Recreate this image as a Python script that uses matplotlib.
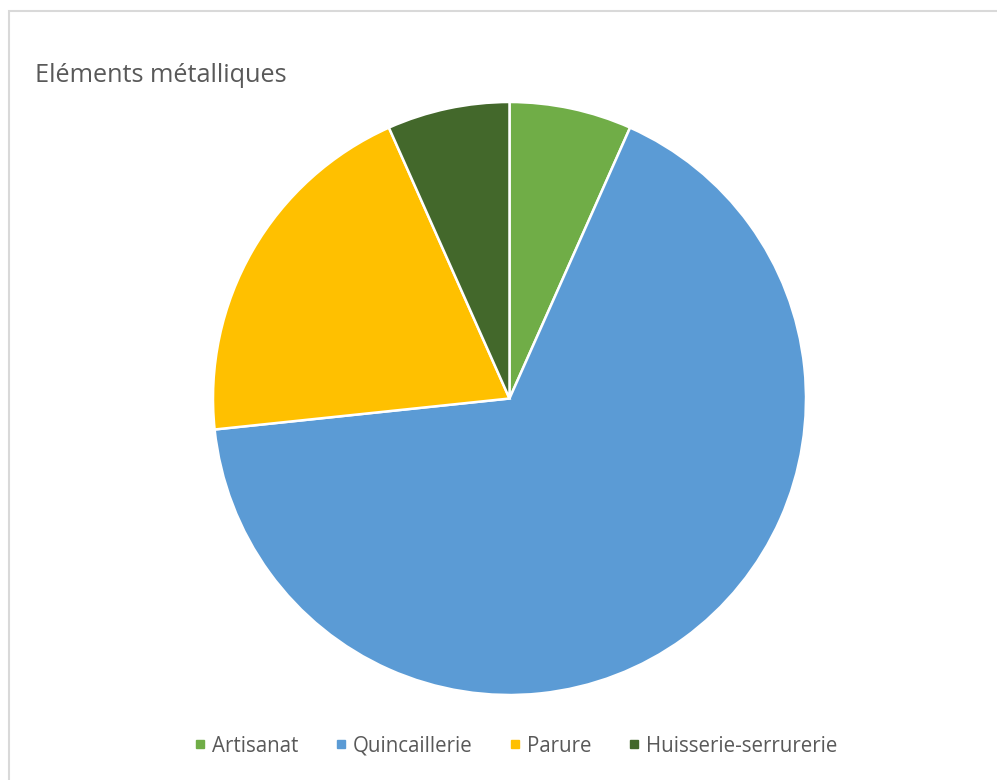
import matplotlib
matplotlib.use("Agg")
import matplotlib.pyplot as plt
from matplotlib.patches import Rectangle
from matplotlib.lines import Line2D

categories = ["Artisanat", "Quincaillerie", "Parure", "Huisserie-serrurerie"]
counts = [1, 10, 3, 1]
colors = ["#70AD47", "#5B9BD5", "#FFC000", "#43682B"]
title = "Eléments métalliques"

plt.rcParams["font.family"] = ["Open Sans", "DejaVu Sans"]

W, H = 997, 780
fig = plt.figure(figsize=(W / 100, H / 100), dpi=100)
fig.patch.set_facecolor("white")

# chart-area frame
fig.patches.append(Rectangle((8.5 / W, -0.05), 1.0, (H - 11.5) / H + 0.05,
                             transform=fig.transFigure, fill=False,
                             edgecolor="#D9D9D9", linewidth=1.5))

# pie axes: centre (509.5, 398.5) px, radius 296.5 px
r = 296.5
cx, cy = 509.5, 398.5
ax = fig.add_axes([(cx - r) / W, (H - cy - r) / H, 2 * r / W, 2 * r / H])
ax.pie(counts, colors=colors, startangle=90, counterclock=False, radius=1,
       wedgeprops=dict(edgecolor="white", linewidth=1.8))
ax.set_xlim(-1, 1)
ax.set_ylim(-1, 1)
ax.set_aspect("equal")
ax.axis("off")

fig.text(35 / W, 1 - 76 / H, title, fontsize=18.2, color="#595959",
         ha="left", va="center")

handles = [Line2D([], [], marker="s", linestyle="none", markersize=5.8,
                  markerfacecolor=c, markeredgecolor=c) for c in colors]
fig.legend(handles, categories, ncol=4, loc="center",
           bbox_to_anchor=(516 / W, 1 - 746 / H), frameon=False,
           fontsize=14.8, labelcolor="#595959", handlelength=0.55,
           handletextpad=0.3, columnspacing=1.8,
           borderpad=0, borderaxespad=0)

fig.savefig("out.png", dpi=100)
